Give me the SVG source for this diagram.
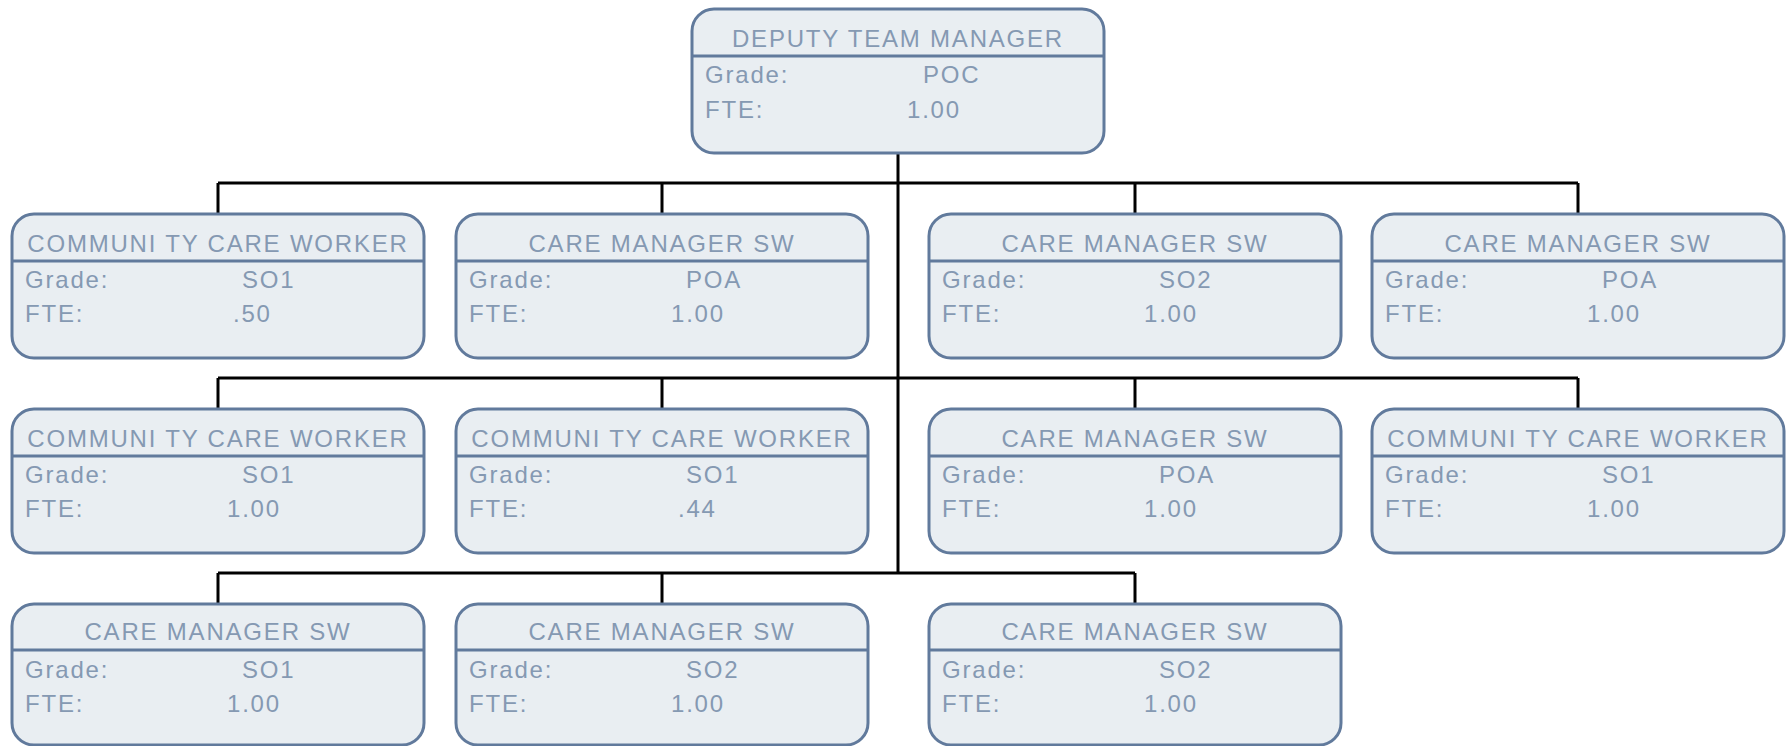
<svg xmlns="http://www.w3.org/2000/svg" width="1786" height="746" viewBox="0 0 1786 746">
<style>
.box{fill:#e9eef2;stroke:#617a9c;stroke-width:3}
.div{stroke:#617a9c;stroke-width:3}
.t{font-family:"Liberation Sans",Arial,sans-serif;font-size:24px;fill:#8599b2;letter-spacing:1.8px}
.c{text-anchor:middle}
.con{stroke:#000;stroke-width:3;fill:none}
</style>
<rect width="1786" height="746" fill="#fff"/>
<g id="connectors">
<path class="con" d="M898 153V573M218 183H1578M218 183V214M662 183V214M1135 183V214M1578 183V214M218 378H1578M218 378V409M662 378V409M1135 378V409M1578 378V409M218 573H1135M218 573V604M662 573V604M1135 573V604"/>
</g>
<g id="n0">
<rect class="box" x="692" y="9" width="412" height="144" rx="22"/>
<line class="div" x1="692" y1="56" x2="1104" y2="56"/>
<text class="t c" x="898" y="47">DEPUTY TEAM MANAGER</text>
<text class="t" x="705" y="83">Grade:</text><text class="t" x="923" y="83">POC</text>
<text class="t" x="705" y="118">FTE:</text><text class="t" x="907" y="118">1.00</text>
</g>
<g id="n1">
<rect class="box" x="12" y="214" width="412" height="144" rx="22"/>
<line class="div" x1="12" y1="261" x2="424" y2="261"/>
<text class="t c" x="218" y="252">COMMUNI TY CARE WORKER</text>
<text class="t" x="25" y="288">Grade:</text><text class="t" x="242" y="288">SO1</text>
<text class="t" x="25" y="322">FTE:</text><text class="t" x="233" y="322">.50</text>
</g>
<g id="n2">
<rect class="box" x="456" y="214" width="412" height="144" rx="22"/>
<line class="div" x1="456" y1="261" x2="868" y2="261"/>
<text class="t c" x="662" y="252">CARE MANAGER SW</text>
<text class="t" x="469" y="288">Grade:</text><text class="t" x="686" y="288">POA</text>
<text class="t" x="469" y="322">FTE:</text><text class="t" x="671" y="322">1.00</text>
</g>
<g id="n3">
<rect class="box" x="929" y="214" width="412" height="144" rx="22"/>
<line class="div" x1="929" y1="261" x2="1341" y2="261"/>
<text class="t c" x="1135" y="252">CARE MANAGER SW</text>
<text class="t" x="942" y="288">Grade:</text><text class="t" x="1159" y="288">SO2</text>
<text class="t" x="942" y="322">FTE:</text><text class="t" x="1144" y="322">1.00</text>
</g>
<g id="n4">
<rect class="box" x="1372" y="214" width="412" height="144" rx="22"/>
<line class="div" x1="1372" y1="261" x2="1784" y2="261"/>
<text class="t c" x="1578" y="252">CARE MANAGER SW</text>
<text class="t" x="1385" y="288">Grade:</text><text class="t" x="1602" y="288">POA</text>
<text class="t" x="1385" y="322">FTE:</text><text class="t" x="1587" y="322">1.00</text>
</g>
<g id="n5">
<rect class="box" x="12" y="409" width="412" height="144" rx="22"/>
<line class="div" x1="12" y1="456" x2="424" y2="456"/>
<text class="t c" x="218" y="447">COMMUNI TY CARE WORKER</text>
<text class="t" x="25" y="483">Grade:</text><text class="t" x="242" y="483">SO1</text>
<text class="t" x="25" y="517">FTE:</text><text class="t" x="227" y="517">1.00</text>
</g>
<g id="n6">
<rect class="box" x="456" y="409" width="412" height="144" rx="22"/>
<line class="div" x1="456" y1="456" x2="868" y2="456"/>
<text class="t c" x="662" y="447">COMMUNI TY CARE WORKER</text>
<text class="t" x="469" y="483">Grade:</text><text class="t" x="686" y="483">SO1</text>
<text class="t" x="469" y="517">FTE:</text><text class="t" x="678" y="517">.44</text>
</g>
<g id="n7">
<rect class="box" x="929" y="409" width="412" height="144" rx="22"/>
<line class="div" x1="929" y1="456" x2="1341" y2="456"/>
<text class="t c" x="1135" y="447">CARE MANAGER SW</text>
<text class="t" x="942" y="483">Grade:</text><text class="t" x="1159" y="483">POA</text>
<text class="t" x="942" y="517">FTE:</text><text class="t" x="1144" y="517">1.00</text>
</g>
<g id="n8">
<rect class="box" x="1372" y="409" width="412" height="144" rx="22"/>
<line class="div" x1="1372" y1="456" x2="1784" y2="456"/>
<text class="t c" x="1578" y="447">COMMUNI TY CARE WORKER</text>
<text class="t" x="1385" y="483">Grade:</text><text class="t" x="1602" y="483">SO1</text>
<text class="t" x="1385" y="517">FTE:</text><text class="t" x="1587" y="517">1.00</text>
</g>
<g id="n9">
<rect class="box" x="12" y="604" width="412" height="141" rx="22"/>
<line class="div" x1="12" y1="650" x2="424" y2="650"/>
<text class="t c" x="218" y="640">CARE MANAGER SW</text>
<text class="t" x="25" y="678">Grade:</text><text class="t" x="242" y="678">SO1</text>
<text class="t" x="25" y="712">FTE:</text><text class="t" x="227" y="712">1.00</text>
</g>
<g id="n10">
<rect class="box" x="456" y="604" width="412" height="141" rx="22"/>
<line class="div" x1="456" y1="650" x2="868" y2="650"/>
<text class="t c" x="662" y="640">CARE MANAGER SW</text>
<text class="t" x="469" y="678">Grade:</text><text class="t" x="686" y="678">SO2</text>
<text class="t" x="469" y="712">FTE:</text><text class="t" x="671" y="712">1.00</text>
</g>
<g id="n11">
<rect class="box" x="929" y="604" width="412" height="141" rx="22"/>
<line class="div" x1="929" y1="650" x2="1341" y2="650"/>
<text class="t c" x="1135" y="640">CARE MANAGER SW</text>
<text class="t" x="942" y="678">Grade:</text><text class="t" x="1159" y="678">SO2</text>
<text class="t" x="942" y="712">FTE:</text><text class="t" x="1144" y="712">1.00</text>
</g>
</svg>
